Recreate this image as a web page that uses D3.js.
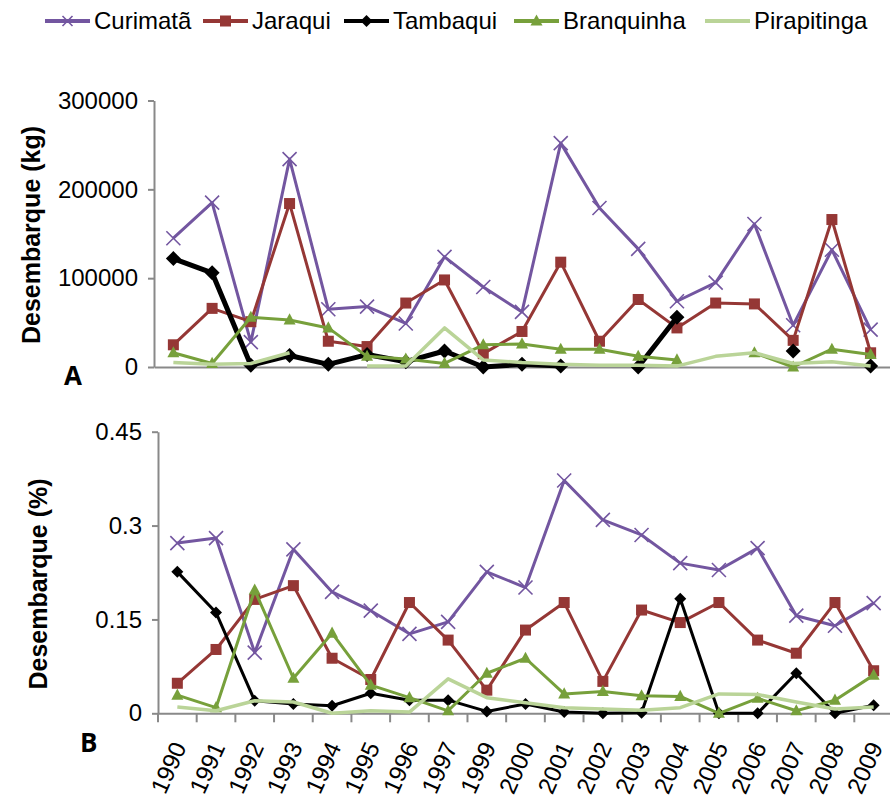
<!DOCTYPE html>
<html>
<head>
<meta charset="utf-8">
<script src="https://cdn.jsdelivr.net/npm/d3@7"></script>
<style>
  body { margin: 0; background: #fff; }
  svg { font-family: "Liberation Sans", Arial, sans-serif; }
  .axis path, .axis line { stroke: #898989; stroke-width: 2; }
  .axis text { font-size: 24px; fill: #000; }
  .axis_label { font-weight: bold; font-size: 25px; }
</style>
</head>
<body>
<svg id="chart"></svg>
<script>
// anos (1998 ausente)
const years = ['1990','1991','1992','1993','1994','1995','1996','1997','1999','2000',
               '2001','2002','2003','2004','2005','2006','2007','2008','2009'];

// painel A - desembarque (kg)
const curimataKg    = [145000,185000,28000,234000,65000,68000,49000,124000,90000,62000,252000,179000,133000,74000,95000,161000,47000,132000,42000];
const jaraquiKg     = [25000,66000,51000,184000,29000,23000,72000,98000,15000,40000,118000,29000,76000,44000,72000,71000,30000,166000,16000];
const tambaquiKg    = [122000,106000,2000,13000,3000,14000,6000,18000,0,3000,1000,null,0,56000,null,null,18000,null,1000];
const branquinhaKg  = [16000,4000,56000,53000,44000,12000,9000,4000,25000,26000,20000,20000,12000,8000,null,16000,0,20000,14000];
const pirapitingaKg = [5000,3000,4000,16000,null,1000,1000,44000,8000,5000,3000,2000,2000,1000,12000,16000,4000,6000,1000];

// painel B - desembarque (%)
const curimataPct    = [0.272,0.280,0.097,0.262,0.194,0.164,0.127,0.146,0.226,0.201,0.372,0.309,0.285,0.240,0.229,0.264,0.156,0.140,0.176];
const jaraquiPct     = [0.048,0.102,0.182,0.204,0.088,0.054,0.177,0.117,0.037,0.133,0.177,0.051,0.165,0.145,0.177,0.117,0.096,0.177,0.068];
const tambaquiPct    = [0.226,0.161,0.020,0.015,0.012,0.032,0.021,0.021,0.003,0.015,0.002,0,0.001,0.183,0,0,0.064,0,0.013];
const branquinhaPct  = [0.029,0.009,0.197,0.056,0.128,0.045,0.025,0.004,0.064,0.088,0.031,0.035,0.028,0.027,0,0.024,0.004,0.021,0.061];
const pirapitingaPct = [0.010,0.004,0.020,0.018,0,0.004,0.002,0.055,0.025,0.017,0.009,0.007,0.005,0.009,0.031,0.030,0.018,0.007,0.010];

const kgTicks  = [0, 100000, 200000, 300000];
const pctTicks = [0, 0.15, 0.3, 0.45];

const seriesNames = ['Curimatã', 'Jaraqui', 'Tambaqui', 'Branquinha', 'Pirapitinga'];
const seriesColors = ['#7356a0', '#953735', '#000000', '#77a03b', '#bad498'];

const width = 890, height = 800;
const svg = d3.select('#chart').attr('width', width).attr('height', height);

// estilo de cada série (marcador, espessura)
function styleFor(i, panel) {
    let s = [
        { marker: 'x',        size: 14, w: 3 },
        { marker: 'square',   size: 11, w: 3 },
        { marker: 'diamond',  size: panel === 'A' ? 15 : 12, w: panel === 'A' ? 5 : 3 },
        { marker: 'triangle', size: 12, w: 3 },
        { marker: 'none',     size: 0,  w: 3.5 }
    ][i];
    return s;
}

function drawMarker(g, type, cx, cy, size, color) {
    let h = size / 2;
    if (type === 'x') {
        g.append('path')
            .attr('d', `M${cx - h},${cy - h}L${cx + h},${cy + h}M${cx - h},${cy + h}L${cx + h},${cy - h}`)
            .attr('stroke', color).attr('stroke-width', 1.6).attr('fill', 'none');
    } else if (type === 'square') {
        g.append('rect').attr('x', cx - h).attr('y', cy - h)
            .attr('width', size).attr('height', size).attr('fill', color);
    } else if (type === 'diamond') {
        g.append('path')
            .attr('d', `M${cx},${cy - h}L${cx + h},${cy}L${cx},${cy + h}L${cx - h},${cy}Z`)
            .attr('fill', color);
    } else if (type === 'triangle') {
        g.append('path')
            .attr('d', `M${cx},${cy - h * 1.1}L${cx + h},${cy + h * 0.75}L${cx - h},${cy + h * 0.75}Z`)
            .attr('fill', color);
    }
}

function drawPanel(cfg) {
    let x = d3.scaleBand().domain(years).range([cfg.left, cfg.right]).padding(0);
    let bw = x.bandwidth();
    let cx = d => x(d) + bw / 2;
    let y = d3.scaleLinear().domain(cfg.domain).range([cfg.bottom, cfg.top]);

    // eixo y
    let axis_y = d3.axisLeft(y).tickValues(cfg.ticks).tickSize(6).tickSizeOuter(0)
        .tickPadding(10).tickFormat(cfg.fmt);
    svg.append('g').attr('class', 'axis')
        .attr('transform', `translate(${cfg.left}, 0)`)
        .call(axis_y);

    // eixo x
    let gx = svg.append('g').attr('class', 'axis')
        .attr('transform', `translate(0, ${cfg.bottom})`);
    if (cfg.xLabels) {
        gx.call(d3.axisBottom(x).tickSize(9).tickSizeOuter(0));
        gx.selectAll('.tick line').attr('x1', -bw / 2).attr('x2', -bw / 2);
        gx.append('line').attr('x1', cfg.right).attr('x2', cfg.right).attr('y1', 0).attr('y2', 9);
        gx.selectAll('.tick text')
            .attr('font-size', '22px')
            .attr('text-anchor', 'end')
            .attr('y', 0).attr('dy', '0.35em')
            .attr('transform', 'translate(2, 30) rotate(-66)');
    } else {
        gx.call(d3.axisBottom(x).tickValues([]).tickSizeOuter(0));
    }

    // título do eixo y
    svg.append('text')
        .attr('class', 'axis_label')
        .attr('transform', `translate(${cfg.titleX}, ${cfg.titleY}) rotate(-90)`)
        .attr('text-anchor', 'middle')
        .text(cfg.title);

    // letra do painel
    svg.append('text')
        .attr('x', cfg.letterX).attr('y', cfg.letterY)
        .attr('font-family', '"Open Sans", "Liberation Sans", sans-serif')
        .attr('font-weight', 'bold').attr('font-size', '26px')
        .text(cfg.letter);

    // séries
    cfg.data.forEach((vals, i) => {
        let st = styleFor(i, cfg.letter);
        let pts = years.map((yr, j) => ({ yr: yr, v: vals[j] }));
        let line = d3.line()
            .defined(d => d.v !== null)
            .x(d => cx(d.yr))
            .y(d => y(d.v));
        let g = svg.append('g');
        g.append('path')
            .datum(pts)
            .attr('d', line)
            .attr('fill', 'none')
            .attr('stroke', seriesColors[i])
            .attr('stroke-width', st.w)
            .attr('stroke-linejoin', 'round');
        pts.forEach(d => {
            if (d.v === null) return;
            drawMarker(g, st.marker, cx(d.yr), y(d.v), st.size, seriesColors[i]);
        });
    });
}

drawPanel({
    letter: 'A', left: 154, right: 890, top: 100.5, bottom: 367,
    domain: [0, 300000], ticks: kgTicks, fmt: d => d,
    title: 'Desembarque (kg)', titleX: 40, titleY: 235,
    letterX: 64, letterY: 385, xLabels: false,
    data: [curimataKg, jaraquiKg, tambaquiKg, branquinhaKg, pirapitingaKg]
});

drawPanel({
    letter: 'B', left: 158, right: 893, top: 431.7, bottom: 713.3,
    domain: [0, 0.45], ticks: pctTicks, fmt: d => d,
    title: 'Desembarque (%)', titleX: 47, titleY: 584,
    letterX: 80, letterY: 752, xLabels: true,
    data: [curimataPct, jaraquiPct, tambaquiPct, branquinhaPct, pirapitingaPct]
});

// legenda
const legendX = [45, 203, 344, 514, 705];
let legend = svg.append('g');
seriesNames.forEach((name, i) => {
    let st = styleFor(i, 'B');
    let x0 = legendX[i], yy = 21;
    legend.append('line')
        .attr('x1', x0).attr('x2', x0 + 45).attr('y1', yy).attr('y2', yy)
        .attr('stroke', seriesColors[i]).attr('stroke-width', 4);
    drawMarker(legend, st.marker, x0 + 22.5, yy, i === 0 ? 10 : st.size, seriesColors[i]);
    legend.append('text')
        .attr('x', x0 + 49).attr('y', yy).attr('dy', '0.35em')
        .attr('font-size', '24px')
        .text(name);
});
</script>
</body>
</html>
